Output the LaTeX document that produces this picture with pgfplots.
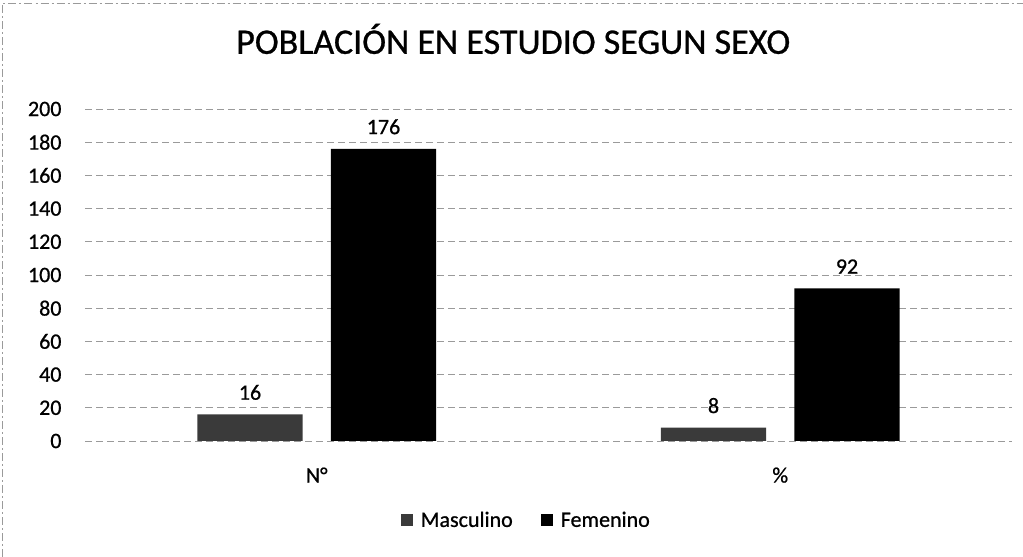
\documentclass[border=0pt]{standalone}
\usepackage{pgfplots}
\pgfplotsset{compat=1.18}
\usepackage{fontspec}
\setmainfont{Carlito}[FakeBold=0.8]
\definecolor{masc}{HTML}{3A3A3A}
\definecolor{gridc}{HTML}{9A9A9A}
\begin{document}
\begin{tikzpicture}
\useasboundingbox (0pt,0pt) rectangle (1023pt,557pt);
\draw[gridc, line width=0.8pt, dash pattern=on 8pt off 3pt on 2pt off 3pt] (2.5pt,0pt) -- (2.5pt,554pt) -- (1023pt,554pt);
\begin{axis}[
  at={(85pt,116pt)}, anchor=south west,
  scale only axis, width=927pt, height=332pt,
  xmin=-0.5, xmax=1.5, ymin=0, ymax=200,
  ytick={0,20,...,200},
  xtick={0,1}, xticklabels={N°,\%},
  axis line style={draw=none},
  major tick length=0pt,
  ymajorgrids,
  grid style={gridc, line width=0.9pt, dash pattern=on 7pt off 4pt},
  /pgf/number format/assume math mode=true,
  tick label style={font=\fontsize{22}{26}\selectfont},
  yticklabel style={xshift=-20pt},
  xticklabel style={yshift=-23pt},
  ybar, bar width=0.227,
  nodes near coords,
  every node near coord/.append style={font=\fontsize{22}{26}\selectfont, yshift=11pt, /pgf/number format/assume math mode=true},
  title={POBLACIÓN EN ESTUDIO SEGUN SEXO},
  title style={at={(0.462,1.193)}, anchor=center, font=\fontsize{36}{40}\selectfont},
  legend style={at={(0.476,-0.238)}, anchor=center, draw=none, legend columns=2,
    font=\fontsize{22}{26}\selectfont,
    /tikz/every odd column/.append style={column sep=6pt},
    /tikz/every even column/.append style={column sep=26pt}},
  legend image code/.code={\fill[#1] (0pt,-6pt) rectangle (12pt,6pt);},
]
\addplot[fill=masc, draw=none, bar shift=-0.144] coordinates {(0,16) (1,8)};
\addplot[fill=black, draw=none, bar shift=0.144] coordinates {(0,176) (1,92)};
\legend{Masculino, Femenino}
\end{axis}
\end{tikzpicture}
\end{document}
